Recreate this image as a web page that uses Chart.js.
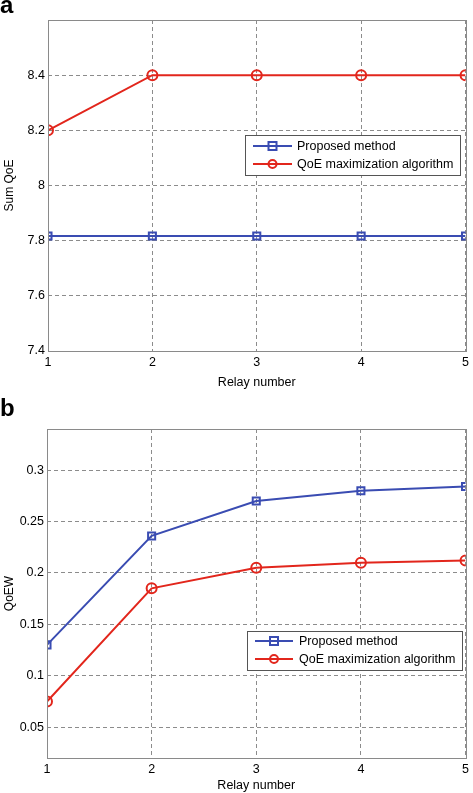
<!DOCTYPE html>
<html><head><meta charset="utf-8">
<script src="https://cdn.jsdelivr.net/npm/chart.js@4"></script>
<style>
html,body{margin:0;padding:0;background:#fff;}
#wrap{position:relative;width:473px;height:793px;overflow:hidden;}
canvas{position:absolute;left:0;}
.lab{position:absolute;font-family:"Liberation Sans",Arial,sans-serif;font-weight:bold;font-size:24px;line-height:1;color:#000;}
</style></head>
<body><div id="wrap">
<canvas id="ca" width="473" height="390" style="top:0"></canvas>
<canvas id="cb" width="473" height="403" style="top:390px"></canvas>
<div class="lab" style="left:0;top:-7px">a</div>
<div class="lab" style="left:0;top:396px">b</div>
</div>
<script>
const relays = [1, 2, 3, 4, 5];
const seriesNames = ["Proposed method", "QoE maximization algorithm"];
// Panel a: Sum QoE
const sumQoEProposed = [7.817, 7.817, 7.817, 7.817, 7.817];
const sumQoEMax = [8.2, 8.4, 8.4, 8.4, 8.4];
const ticksA = [7.4, 7.6, 7.8, 8, 8.2, 8.4];
const tickLabelsA = ["7.4", "7.6", "7.8", "8", "8.2", "8.4"];
// Panel b: QoEW
const qoewProposed = [0.130, 0.236, 0.270, 0.280, 0.284];
const qoewMax = [0.075, 0.185, 0.205, 0.210, 0.212];
const ticksB = [0.05, 0.1, 0.15, 0.2, 0.25, 0.3];
const tickLabelsB = ["0.05", "0.1", "0.15", "0.2", "0.25", "0.3"];

const BLUE = "rgb(58,76,178)";
const RED = "rgb(226,38,28)";
const FONT = '"Liberation Sans", Arial, sans-serif';

const frameLegend = {
  id: "frameLegend",
  afterDraw(chart, args, opts) {
    const ctx = chart.ctx, a = chart.chartArea;
    ctx.save();
    ctx.strokeStyle = "#8a8a8a";
    ctx.lineWidth = 1;
    ctx.setLineDash([]);
    ctx.strokeRect(Math.round(a.left) + 0.5, Math.round(a.top) + 0.5, Math.round(a.right - a.left), Math.round(a.bottom - a.top));
    // legend
    const b = opts.box;
    ctx.fillStyle = "#fff";
    ctx.fillRect(b.x, b.y, b.w, b.h);
    ctx.strokeStyle = "#555";
    ctx.strokeRect(b.x + 0.5, b.y + 0.5, b.w, b.h);
    chart.data.datasets.forEach((ds, i) => {
      const y = b.y + opts.rows[i];
      ctx.strokeStyle = ds.borderColor;
      ctx.lineWidth = 2;
      ctx.beginPath();
      ctx.moveTo(b.x + opts.lx0, y);
      ctx.lineTo(b.x + opts.lx1, y);
      ctx.stroke();
      const mx = b.x + (opts.lx0 + opts.lx1) / 2;
      if (ds.pointStyle === "rect") {
        ctx.strokeRect(mx - 4, y - 4, 8, 8);
      } else {
        ctx.beginPath(); ctx.arc(mx, y, 4, 0, Math.PI * 2); ctx.stroke();
      }
      ctx.fillStyle = "#000";
      ctx.font = "12.5px " + FONT;
      ctx.textBaseline = "middle";
      ctx.textAlign = "left";
      ctx.fillText(ds.label, b.x + opts.tx, y + 1);
    });
    ctx.restore();
  }
};

function makeChart(id, s1, s2, yMin, yMax, ticks, tickLabels, yTitle, layout, legend) {
  const pts = arr => relays.map((r, i) => ({ x: r, y: arr[i] }));
  return new Chart(document.getElementById(id), {
    type: "line",
    data: {
      datasets: [
        { label: seriesNames[0], data: pts(s1), borderColor: BLUE, backgroundColor: "rgba(0,0,0,0)",
          borderWidth: 2, pointStyle: "rect", pointRadius: 5, pointBorderWidth: 2, pointBackgroundColor: "rgba(0,0,0,0)" },
        { label: seriesNames[1], data: pts(s2), borderColor: RED, backgroundColor: "rgba(0,0,0,0)",
          borderWidth: 2, pointStyle: "circle", pointRadius: 5, pointBorderWidth: 2, pointBackgroundColor: "rgba(0,0,0,0)" }
      ]
    },
    options: {
      responsive: false, animation: false, devicePixelRatio: 1,
      layout: { padding: { top: layout.top, right: layout.right, left: 0, bottom: 0 } },
      plugins: { legend: { display: false }, tooltip: { enabled: false }, frameLegend: legend },
      scales: {
        x: {
          type: "linear", min: 1, max: 5,
          afterBuildTicks: s => { s.ticks = relays.map(v => ({ value: v })); },
          afterFit: s => { s.height = layout.xh; },
          grid: { color: "#8c8c8c", lineWidth: 1, drawTicks: false },
          border: { display: false, dash: [4, 3] },
          ticks: { color: "#000", font: { family: FONT, size: 12.5 }, padding: 4, callback: v => String(v), maxRotation: 0 },
          title: { display: true, text: "Relay number", color: "#000", font: { family: FONT, size: 12.5 }, padding: { top: 0, bottom: 0 } }
        },
        y: {
          min: yMin, max: yMax,
          afterBuildTicks: s => { s.ticks = ticks.map(v => ({ value: v })); },
          afterFit: s => { s.width = layout.yw; },
          grid: { color: "#8c8c8c", lineWidth: 1, drawTicks: false },
          border: { display: false, dash: [4, 3] },
          ticks: { color: "#000", font: { family: FONT, size: 12.5 }, padding: 3,
            callback: (v, i) => tickLabels[i] },
          title: { display: true, text: yTitle, color: "#000", font: { family: FONT, size: 12 }, padding: { top: 2, bottom: 0 } }
        }
      }
    },
    plugins: [frameLegend]
  });
}

makeChart("ca", sumQoEProposed, sumQoEMax, 7.4, 8.6, ticksA, tickLabelsA, "Sum QoE",
  { top: 20, right: 6, xh: 39, yw: 48 },
  { box: { x: 245, y: 135, w: 215, h: 40 }, rows: [11, 29], lx0: 8, lx1: 47, tx: 52 });

makeChart("cb", qoewProposed, qoewMax, 0.02, 0.34, ticksB, tickLabelsB, "QoEW",
  { top: 39, right: 6, xh: 35, yw: 47 },
  { box: { x: 247, y: 241, w: 215, h: 39 }, rows: [10, 28], lx0: 8, lx1: 46, tx: 52 });
</script>
</body></html>
